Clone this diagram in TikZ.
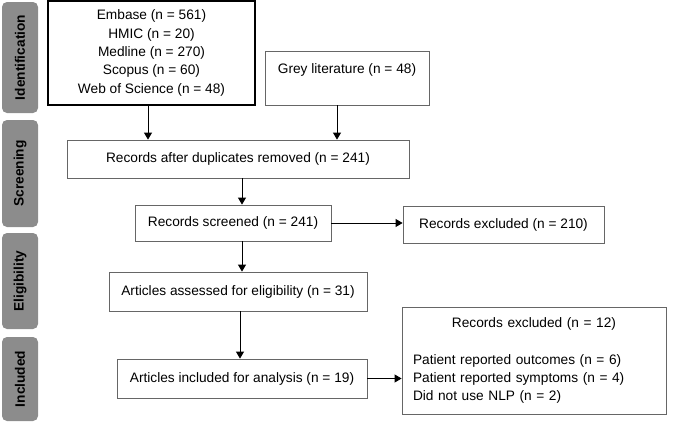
\documentclass[tikz,border=0pt]{standalone}
\usepackage{fontspec}
\setmainfont{Liberation Sans}
\usetikzlibrary{positioning}
\usetikzlibrary{arrows.meta}
\definecolor{bargrey}{HTML}{8C8C8C}
\definecolor{edgegrey}{HTML}{666666}
\begin{document}
\begin{tikzpicture}[x=1pt, y=-1pt]
	\tikzset{
		mynode/.style={rectangle, draw=edgegrey, thick, inner sep=0pt, text centered, font=\fontsize{13.7}{18.3}\selectfont},
		dbnode/.style={mynode, draw=black, line width=1.4pt},
		stagenode/.style={rectangle, rounded corners=5pt, fill=bargrey, rotate=90, minimum height=36pt, inner sep=0pt, font=\fontsize{13.7}{16}\selectfont\bfseries},
		arr/.style={-{Triangle[width=8pt, length=7pt]}, thick},
	}
	\useasboundingbox (0,0) rectangle (678,423);

	% stages
	\node[stagenode, minimum width=111pt] (ident) at (20,57.5) {Identification};
	\node[stagenode, minimum width=107pt] (screen) at (20,173.5) {Screening};
	\node[stagenode, minimum width=96pt] (elig) at (20,281) {Eligibility};
	\node[stagenode, minimum width=84pt] (incl) at (20,379) {Included};

	% boxes
	\node[dbnode, minimum width=207pt, minimum height=104pt, align=center] (emb) at (151.5,53)
		{Embase (n = 561)\\HMIC (n = 20)\\Medline (n = 270)\\Scopus (n = 60)\\Web of Science (n = 48)};
	\node[mynode, minimum width=164pt, minimum height=54pt, align=center] (grey) at (347,78)
		{Grey literature (n = 48)\\~};
	\node[mynode, minimum width=342pt, minimum height=38pt] (dup) at (238,159) {Records after duplicates removed (n = 241)};
	\node[mynode, minimum width=196pt, minimum height=36pt] (scr) at (233,223) {Records screened (n = 241)};
	\node[mynode, minimum width=201pt, minimum height=37pt] (exc) at (503.5,224.5) {Records excluded (n = 210)};
	\node[mynode, minimum width=258pt, minimum height=39pt] (ass) at (238,291.5) {Articles assessed for eligibility (n = 31)};
	\node[mynode, minimum width=250pt, minimum height=39pt] (inc) at (242,378.5) {Articles included for analysis (n = 19)};
	\node[mynode, minimum width=264pt, minimum height=107pt, text width=242pt, align=left] (excl) at (534,360.5)
		{\hspace*{\fill}Records excluded (n = 12)\hspace*{\fill}\null\\[18.3pt]
		Patient reported outcomes (n = 6)\\Patient reported symptoms (n = 4)\\Did not use NLP (n = 2)};

	% arrows
	\draw[arr] ([xshift=-3.5pt]emb.south) -- ([xshift=-3.5pt]emb.south |- dup.north);
	\draw[arr] ([xshift=-10pt]grey.south) -- ([xshift=-10pt]grey.south |- dup.north);
	\draw[arr] (dup.south -| inc.north) -- (scr.north -| inc.north);
	\draw[arr] (scr.east) -- (scr.east -| exc.west);
	\draw[arr] (scr.south -| inc.north) -- (ass.north -| inc.north);
	\draw[arr] ([xshift=-2pt]ass.south -| inc.north) -- ([xshift=-2pt]inc.north);
	\draw[arr] (inc.east) -- (inc.east -| excl.west);
\end{tikzpicture}
\end{document}
